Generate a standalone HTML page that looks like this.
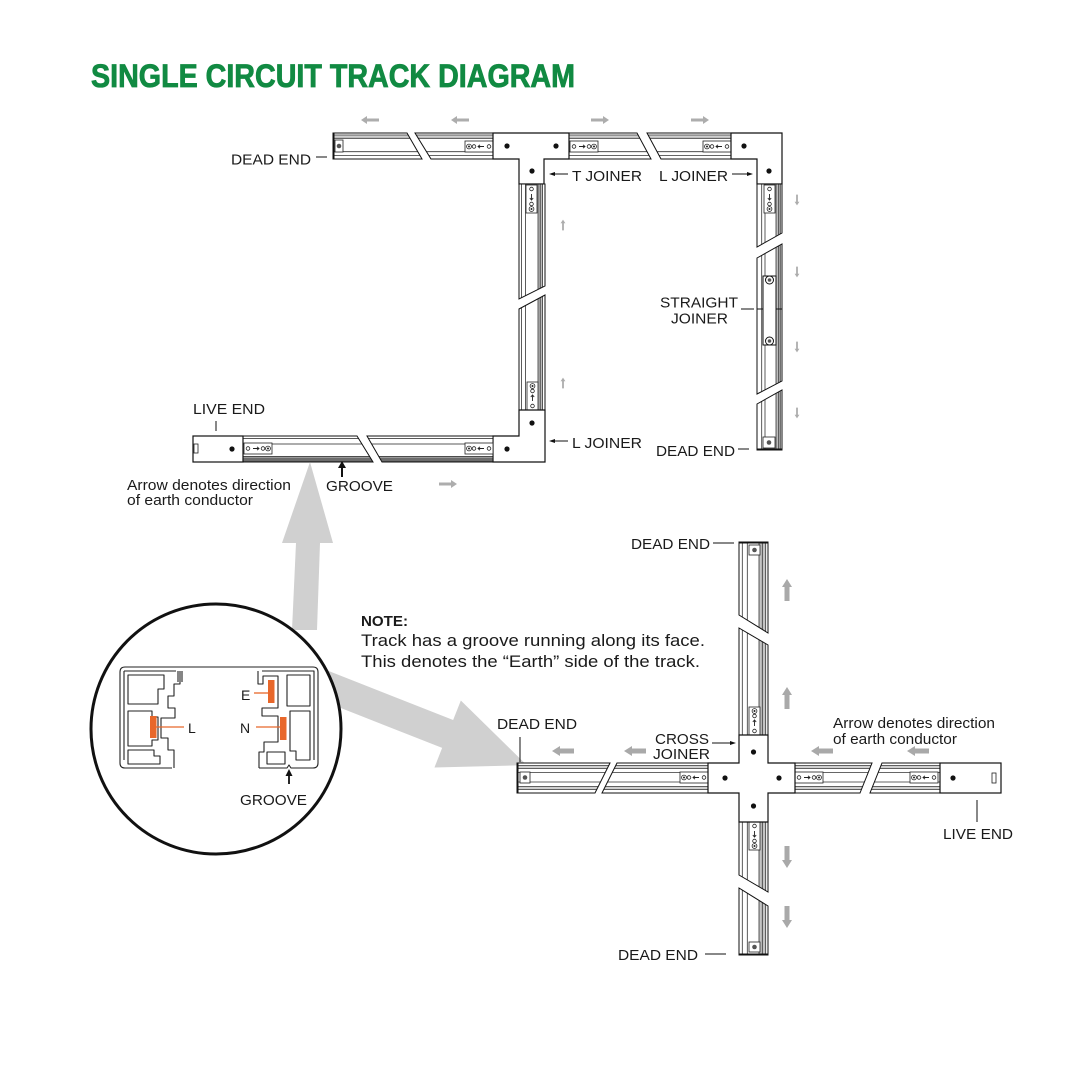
<!DOCTYPE html>
<html><head><meta charset="utf-8"><style>
html,body{margin:0;padding:0;background:#fff;}
svg{display:block;}
text{font-family:"Liberation Sans",Arial,sans-serif;fill:#1a1a1a;}
.tr{stroke:#111;stroke-width:1;stroke-linejoin:miter;}
.j{fill:#fff;stroke:#111;stroke-width:1.2;}
.ln{stroke:#111;stroke-width:1;fill:none;}
.pf{fill:none;stroke:#222;stroke-width:1.1;stroke-linejoin:round;}
</style></head><body>
<svg width="1080" height="1080" viewBox="0 0 1080 1080" xmlns="http://www.w3.org/2000/svg">
<defs>
<pattern id="pT" patternUnits="userSpaceOnUse" x="0" y="133" width="10" height="26">
 <rect width="10" height="26" fill="#fff"/>
 <rect y="2" width="10" height="3.3" fill="#cfcfcf"/>
 <path d="M0 2H10M0 5.3H10M0 18.7H10M0 22.5H10" stroke="#333" stroke-width="0.8"/>
</pattern>
<pattern id="pB" patternUnits="userSpaceOnUse" x="0" y="436" width="10" height="26">
 <rect width="10" height="26" fill="#fff"/>
 <rect y="20.5" width="10" height="4.5" fill="#9a9a9a"/>
 <path d="M0 2.5H10M0 8H10M0 20.5H10M0 23H10M0 25H10" stroke="#222" stroke-width="0.8"/>
</pattern>
<pattern id="pC" patternUnits="userSpaceOnUse" x="0" y="763" width="10" height="30">
 <rect width="10" height="30" fill="#fff"/>
 <rect y="2.5" width="10" height="3" fill="#cfcfcf"/>
 <rect y="23.5" width="10" height="3" fill="#cfcfcf"/>
 <path d="M0 2.5H10M0 5.5H10M0 9.5H10M0 19H10M0 23.5H10M0 26.5H10" stroke="#333" stroke-width="0.8"/>
</pattern>
<pattern id="pL" patternUnits="userSpaceOnUse" x="519" y="0" width="26" height="10">
 <rect width="26" height="10" fill="#fff"/>
 <rect x="19" width="4.5" height="10" fill="#bdbdbd"/>
 <path d="M2.5 0V10M6.5 0V10M19 0V10M21.2 0V10M23.5 0V10" stroke="#333" stroke-width="0.8"/>
</pattern>
<pattern id="pR" patternUnits="userSpaceOnUse" x="757" y="0" width="25" height="10">
 <rect width="25" height="10" fill="#fff"/>
 <rect x="19" width="4.3" height="10" fill="#bdbdbd"/>
 <path d="M4.7 0V10M8 0V10M19 0V10M21.7 0V10M23.3 0V10" stroke="#333" stroke-width="0.8"/>
</pattern>
<pattern id="pV" patternUnits="userSpaceOnUse" x="739" y="0" width="29" height="10">
 <rect width="29" height="10" fill="#fff"/>
 <rect x="20" width="6.7" height="10" fill="#c4c4c4"/>
 <path d="M3.3 0V10M8.3 0V10M20 0V10M23.3 0V10M26.7 0V10" stroke="#333" stroke-width="0.8"/>
</pattern>
<g id="conH">
 <rect x="0" y="0" width="28" height="11" fill="#fff" stroke="#222" stroke-width="0.8"/>
 <circle cx="4" cy="5.5" r="2.4" fill="none" stroke="#222" stroke-width="0.8"/>
 <circle cx="4" cy="5.5" r="1" fill="#222"/>
 <circle cx="9" cy="5.5" r="1.8" fill="none" stroke="#222" stroke-width="0.8"/>
 <path d="M19 5.5H13M15 3.8L13 5.5L15 7.2" fill="none" stroke="#222" stroke-width="0.9"/>
 <circle cx="24" cy="5.5" r="1.8" fill="none" stroke="#222" stroke-width="0.8"/>
</g>
<polygon id="sA" points="-9,0 -3,-4 -3,-1.5 9,-1.5 9,1.5 -3,1.5 -3,4" fill="#adadad"/>
<polygon id="bA" points="-11,0 -3,-5 -3,-2.5 11,-2.5 11,2.5 -3,2.5 -3,5" fill="#a9a9a9"/>
</defs>

<rect width="1080" height="1080" fill="#fff"/>

<!-- Title -->
<text x="91" y="87" font-size="32" font-weight="bold" fill="#118a42" stroke="#118a42" stroke-width="0.8" textLength="484" lengthAdjust="spacingAndGlyphs" style="fill:#118a42">SINGLE CIRCUIT TRACK DIAGRAM</text>

<!-- ================= TOP DIAGRAM ================= -->
<!-- small gray arrows -->
<use href="#sA" transform="translate(370,120)"/>
<use href="#sA" transform="translate(460,120)"/>
<use href="#sA" transform="translate(600,120) scale(-1,1)"/>
<use href="#sA" transform="translate(700,120) scale(-1,1)"/>
<use href="#sA" transform="translate(448,484) scale(-1,1)"/>
<use href="#sA" transform="translate(563,225) rotate(90) scale(0.6)"/>
<use href="#sA" transform="translate(563,383) rotate(90) scale(0.6)"/>
<use href="#sA" transform="translate(797,200) rotate(-90) scale(0.6)"/>
<use href="#sA" transform="translate(797,272) rotate(-90) scale(0.6)"/>
<use href="#sA" transform="translate(797,347) rotate(-90) scale(0.6)"/>
<use href="#sA" transform="translate(797,413) rotate(-90) scale(0.6)"/>

<!-- top row -->
<polygon class="tr" points="333,133 407,133 422,159 333,159" fill="url(#pT)"/>
<polygon class="tr" points="415,133 493,133 493,159 431,159" fill="url(#pT)"/>
<polygon class="tr" points="569,133 637,133 651,159 569,159" fill="url(#pT)"/>
<polygon class="tr" points="647,133 731,133 731,159 661,159" fill="url(#pT)"/>
<line x1="333.5" y1="133" x2="333.5" y2="159" stroke="#111" stroke-width="2"/>
<rect x="335" y="140" width="8" height="12" fill="#fff" stroke="#222" stroke-width="0.8"/>
<circle cx="339" cy="146" r="2.3" fill="#555"/>
<use href="#conH" x="465" y="141"/>
<use href="#conH" transform="translate(598,141) scale(-1,1)"/>
<use href="#conH" x="703" y="141"/>
<polygon class="j" points="493,133 569,133 569,159 544,159 544,184 519,184 519,159 493,159"/>
<polygon class="j" points="731,133 782,133 782,184 757,184 757,159 731,159"/>
<circle cx="507" cy="146" r="2.6" fill="#111"/>
<circle cx="556" cy="146" r="2.6" fill="#111"/>
<circle cx="532" cy="171" r="2.6" fill="#111"/>
<circle cx="744" cy="146" r="2.6" fill="#111"/>
<circle cx="769" cy="171" r="2.6" fill="#111"/>

<!-- left vertical -->
<polygon class="tr" points="519,184 545,184 545,286 519,299" fill="url(#pL)"/>
<polygon class="tr" points="519,309 545,295 545,410 519,410" fill="url(#pL)"/>
<use href="#conH" transform="translate(526,213) rotate(-90)"/>
<use href="#conH" transform="translate(538,382) rotate(90)"/>
<polygon class="j" points="519,410 545,410 545,462 493,462 493,436 519,436"/>
<circle cx="532" cy="423" r="2.6" fill="#111"/>
<circle cx="507" cy="449" r="2.6" fill="#111"/>

<!-- bottom row -->
<polygon class="tr" points="243,436 357,436 373,462 243,462" fill="url(#pB)"/>
<polygon class="tr" points="367,436 493,436 493,462 382,462" fill="url(#pB)"/>
<use href="#conH" transform="translate(272,443) scale(-1,1)"/>
<use href="#conH" x="465" y="443"/>
<rect class="j" x="193" y="436" width="50" height="26"/>
<rect x="194" y="444" width="4" height="9" fill="#fff" stroke="#222" stroke-width="0.8"/>
<circle cx="232" cy="449" r="2.6" fill="#111"/>
<line x1="342" y1="477" x2="342" y2="467" stroke="#111" stroke-width="2"/>
<polygon points="342,461 338,468 346,468" fill="#111"/>

<!-- right vertical -->
<polygon class="tr" points="757,184 782,184 782,233 757,247" fill="url(#pR)"/>
<polygon class="tr" points="757,258 782,244 782,381 757,394" fill="url(#pR)"/>
<polygon class="tr" points="757,404 782,390 782,450 757,450" fill="url(#pR)"/>
<use href="#conH" transform="translate(764,213) rotate(-90)"/>
<line x1="757" y1="309" x2="782" y2="309" stroke="#111" stroke-width="1"/>
<rect x="763" y="276" width="13" height="69" fill="#fff" stroke="#111" stroke-width="1"/>
<circle cx="769.5" cy="280" r="4" fill="#fff" stroke="#111" stroke-width="1"/>
<circle cx="769.5" cy="280" r="1.8" fill="#555"/>
<circle cx="769.5" cy="341" r="4" fill="#fff" stroke="#111" stroke-width="1"/>
<circle cx="769.5" cy="341" r="1.8" fill="#555"/>
<line x1="757" y1="449.5" x2="782" y2="449.5" stroke="#111" stroke-width="2"/>
<rect x="763" y="437" width="12" height="11" fill="#fff" stroke="#222" stroke-width="0.8"/>
<circle cx="769" cy="442.5" r="2.3" fill="#555"/>

<!-- top labels -->
<text x="231" y="164.5" font-size="15" textLength="80" lengthAdjust="spacingAndGlyphs">DEAD END</text>
<line class="ln" x1="316" y1="157" x2="327" y2="157"/>
<text x="572" y="181" font-size="15" textLength="70" lengthAdjust="spacingAndGlyphs">T JOINER</text>
<line class="ln" x1="552" y1="174" x2="568" y2="174"/>
<polygon points="549,174 555,172 555,176" fill="#111"/>
<text x="659" y="181" font-size="15" textLength="69" lengthAdjust="spacingAndGlyphs">L JOINER</text>
<line class="ln" x1="732" y1="174" x2="750" y2="174"/>
<polygon points="753,174 747,172 747,176" fill="#111"/>
<text x="660" y="307.5" font-size="15" textLength="78" lengthAdjust="spacingAndGlyphs">STRAIGHT</text>
<text x="671" y="323.5" font-size="15" textLength="57" lengthAdjust="spacingAndGlyphs">JOINER</text>
<line class="ln" x1="741" y1="309" x2="754" y2="309"/>
<text x="193" y="414" font-size="15" textLength="72" lengthAdjust="spacingAndGlyphs">LIVE END</text>
<line class="ln" x1="216" y1="421" x2="216" y2="431"/>
<text x="572" y="448" font-size="15" textLength="70" lengthAdjust="spacingAndGlyphs">L JOINER</text>
<line class="ln" x1="552" y1="441" x2="568" y2="441"/>
<polygon points="549,441 555,439 555,443" fill="#111"/>
<text x="656" y="456" font-size="15" textLength="79" lengthAdjust="spacingAndGlyphs">DEAD END</text>
<line class="ln" x1="738" y1="449" x2="749" y2="449"/>
<text x="326" y="491" font-size="15" textLength="67" lengthAdjust="spacingAndGlyphs">GROOVE</text>
<text x="127" y="490" font-size="15" textLength="164" lengthAdjust="spacingAndGlyphs">Arrow denotes direction</text>
<text x="127" y="505" font-size="15" textLength="126" lengthAdjust="spacingAndGlyphs">of earth conductor</text>

<!-- ================= BIG GRAY ARROWS ================= -->
<polygon points="292,630 296,543 282,543 310,462 333,543 320,543 317,630" fill="#d0d0d0"/>
<polygon transform="translate(336,690) rotate(21.5)" points="-25,-15 120,-15 120,-36 205,0 120,36 120,15 -25,15" fill="#d0d0d0"/>

<!-- ================= CIRCLE ================= -->
<circle cx="216" cy="729" r="125" fill="#fff" stroke="#111" stroke-width="3"/>
<!-- profile -->
<path class="pf" d="M172,768 H125 Q120,768 120,763 V672 Q120,667 125,667 H313 Q318,667 318,672 V763 Q318,768 313,768 H291 L289,765 L287,768 H259"/>
<path class="pf" d="M180,671 V684 H174 V696 H168 V708 H175 V718 H161 V738 H168 V750 H174 V768"/>
<path class="pf" d="M178,671 V682 M182,671 V682"/>
<path class="pf" d="M258,671 V684 H263 V676 H278 V708 H262 V716 H278 V742 H264 V752 H259 V768"/>
<path class="pf" d="M124,671 H176 M262,671 H314 V760 M124,671 V760"/>
<path class="pf" d="M128,675 H164 V689 H158 V704 H128 Z"/>
<path class="pf" d="M128,711 H152 V717 H158 V740 H152 V746 H128 Z"/>
<path class="pf" d="M128,750 H154 V756 H160 V764 H128 Z"/>
<path class="pf" d="M287,675 H310 V706 H287 Z"/>
<path class="pf" d="M290,711 H310 V760 H296 V751 H290 Z"/>
<path class="pf" d="M267,752 H285 V764 H267 Z"/>
<rect x="150" y="716" width="6.5" height="22" fill="#e8672a"/>
<rect x="268" y="680" width="6.5" height="23" fill="#e8672a"/>
<rect x="280" y="717" width="6.5" height="23" fill="#e8672a"/>
<line x1="156" y1="727" x2="184" y2="727" stroke="#e8672a" stroke-width="1.3"/>
<line x1="254" y1="693" x2="268" y2="693" stroke="#e8672a" stroke-width="1.3"/>
<line x1="256" y1="727" x2="280" y2="727" stroke="#e8672a" stroke-width="1.3"/>
<text x="241" y="700" font-size="14">E</text>
<text x="188" y="733" font-size="14">L</text>
<text x="240" y="733" font-size="14">N</text>
<line x1="289" y1="784" x2="289" y2="775" stroke="#111" stroke-width="1.8"/>
<polygon points="289,769 285.5,776 292.5,776" fill="#111"/>
<text x="240" y="805" font-size="15" textLength="67" lengthAdjust="spacingAndGlyphs">GROOVE</text>

<!-- NOTE -->
<text x="361" y="626" font-size="15" font-weight="bold" textLength="47" lengthAdjust="spacingAndGlyphs">NOTE:</text>
<text x="361" y="646" font-size="17" textLength="344" lengthAdjust="spacingAndGlyphs">Track has a groove running along its face.</text>
<text x="361" y="667" font-size="17" textLength="339" lengthAdjust="spacingAndGlyphs">This denotes the “Earth” side of the track.</text>

<!-- ================= CROSS DIAGRAM ================= -->
<use href="#bA" transform="translate(563,751)"/>
<use href="#bA" transform="translate(635,751)"/>
<use href="#bA" transform="translate(822,751)"/>
<use href="#bA" transform="translate(918,751)"/>
<use href="#bA" transform="translate(787,590) rotate(90)"/>
<use href="#bA" transform="translate(787,698) rotate(90)"/>
<use href="#bA" transform="translate(787,857) rotate(-90)"/>
<use href="#bA" transform="translate(787,917) rotate(-90)"/>

<polygon class="tr" points="517,763 610,763 595,793 517,793" fill="url(#pC)"/>
<polygon class="tr" points="617,763 708,763 708,793 602,793" fill="url(#pC)"/>
<polygon class="tr" points="795,763 872,763 860,793 795,793" fill="url(#pC)"/>
<polygon class="tr" points="882,763 940,763 940,793 870,793" fill="url(#pC)"/>
<line x1="517.5" y1="763" x2="517.5" y2="793" stroke="#111" stroke-width="2"/>
<rect x="520" y="772" width="10" height="11" fill="#fff" stroke="#222" stroke-width="0.8"/>
<circle cx="525" cy="777.5" r="2.3" fill="#555"/>
<use href="#conH" x="680" y="772"/>
<use href="#conH" transform="translate(823,772) scale(-1,1)"/>
<use href="#conH" x="910" y="772"/>
<rect class="j" x="940" y="763" width="61" height="30"/>
<rect x="992" y="773" width="4" height="10" fill="#fff" stroke="#222" stroke-width="0.8"/>
<circle cx="953" cy="778" r="2.6" fill="#111"/>

<polygon class="tr" points="739,542 768,542 768,633 739,615" fill="url(#pV)"/>
<polygon class="tr" points="739,628 768,645 768,735 739,735" fill="url(#pV)"/>
<polygon class="tr" points="739,822 768,822 768,892 739,875" fill="url(#pV)"/>
<polygon class="tr" points="739,888 768,906 768,955 739,955" fill="url(#pV)"/>
<line x1="739" y1="542.5" x2="768" y2="542.5" stroke="#111" stroke-width="2"/>
<line x1="739" y1="954.5" x2="768" y2="954.5" stroke="#111" stroke-width="2"/>
<rect x="749" y="545" width="11" height="10" fill="#fff" stroke="#222" stroke-width="0.8"/>
<circle cx="754.5" cy="550" r="2.3" fill="#555"/>
<rect x="749" y="942" width="11" height="10" fill="#fff" stroke="#222" stroke-width="0.8"/>
<circle cx="754.5" cy="947" r="2.3" fill="#555"/>
<use href="#conH" transform="translate(760,707) rotate(90)"/>
<use href="#conH" transform="translate(749,850) rotate(-90)"/>

<polygon class="j" points="708,763 739,763 739,735 768,735 768,763 795,763 795,793 768,793 768,822 739,822 739,793 708,793"/>
<circle cx="753.5" cy="752" r="2.6" fill="#111"/>
<circle cx="725" cy="778" r="2.6" fill="#111"/>
<circle cx="779" cy="778" r="2.6" fill="#111"/>
<circle cx="753.5" cy="806" r="2.6" fill="#111"/>

<!-- cross labels -->
<text x="631" y="549" font-size="15" textLength="79" lengthAdjust="spacingAndGlyphs">DEAD END</text>
<line class="ln" x1="713" y1="543" x2="734" y2="543"/>
<text x="497" y="729" font-size="15" textLength="80" lengthAdjust="spacingAndGlyphs">DEAD END</text>
<line class="ln" x1="520" y1="737" x2="520" y2="762"/>
<text x="655" y="744" font-size="15" textLength="54" lengthAdjust="spacingAndGlyphs">CROSS</text>
<text x="653" y="759" font-size="15" textLength="57" lengthAdjust="spacingAndGlyphs">JOINER</text>
<line class="ln" x1="712" y1="743" x2="732" y2="743"/>
<polygon points="736,743 730,741 730,745" fill="#111"/>
<text x="833" y="728" font-size="15" textLength="162" lengthAdjust="spacingAndGlyphs">Arrow denotes direction</text>
<text x="833" y="744" font-size="15" textLength="124" lengthAdjust="spacingAndGlyphs">of earth conductor</text>
<text x="943" y="839" font-size="15" textLength="70" lengthAdjust="spacingAndGlyphs">LIVE END</text>
<line class="ln" x1="977" y1="800" x2="977" y2="822"/>
<text x="618" y="960" font-size="15" textLength="80" lengthAdjust="spacingAndGlyphs">DEAD END</text>
<line class="ln" x1="705" y1="954" x2="726" y2="954"/>
</svg>
</body></html>
